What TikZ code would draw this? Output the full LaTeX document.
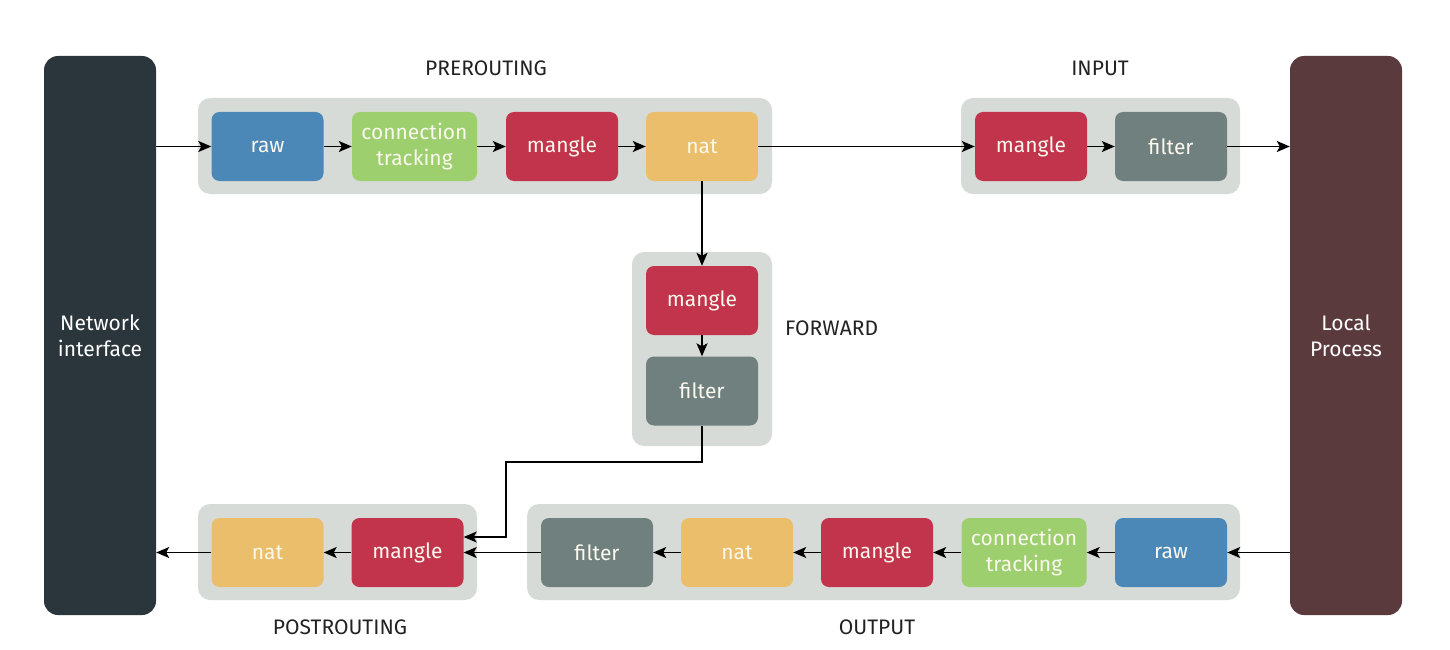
\documentclass[tikz,border=0pt]{standalone}
\usepackage{fontspec}
\setmainfont{Fira Sans}
\usetikzlibrary{arrows.meta}
\definecolor{nicol}{HTML}{2B363C}
\definecolor{lpcol}{HTML}{5B3A3E}
\definecolor{grpcol}{HTML}{D7DBD8}
\definecolor{redcol}{HTML}{C1344B}
\definecolor{bluecol}{HTML}{4B88B8}
\definecolor{greencol}{HTML}{9DCF6F}
\definecolor{yellowcol}{HTML}{EABE6A}
\definecolor{graycol}{HTML}{6F807E}
\definecolor{txtcol}{HTML}{FBF8EE}
\definecolor{lblcol}{HTML}{222222}
\begin{document}
\begin{tikzpicture}[x=1pt,y=-1pt,
  grp/.style={draw=none,fill=grpcol,rounded corners=12pt,inner sep=0pt},
  tbl/.style={fill=#1,rounded corners=8pt,minimum width=112pt,minimum height=69pt,inner sep=0pt,text=txtcol,font=\fontsize{21}{26}\selectfont,align=center},
  side/.style={fill=#1,rounded corners=14pt,minimum width=112pt,minimum height=559pt,inner sep=0pt,text=white,font=\fontsize{21}{26}\selectfont,align=center},
  lbl/.style={text=lblcol,font=\fontsize{21}{24}\selectfont,inner sep=0pt},
  arr/.style={-{Stealth[length=13pt,width=11pt,inset=3pt]},line width=1.4pt,draw=black},
]
\useasboundingbox (0,0) rectangle (1450,650);
% groups
\node[grp,minimum width=574pt,minimum height=96pt] (gpre) at (485,146) {};
\node[grp,minimum width=279pt,minimum height=96pt] (gin) at (1100.5,146) {};
\node[grp,minimum width=140pt,minimum height=194pt] (gfwd) at (702,349) {};
\node[grp,minimum width=279pt,minimum height=96pt] (gpost) at (337.5,552) {};
\node[grp,minimum width=713pt,minimum height=96pt] (gout) at (883.5,552) {};
% labels
\node[lbl] (lpre) at (486,68) {PREROUTING};
\node[lbl] (lin) at (1100,68) {INPUT};
\node[lbl,anchor=west] (lfwd) at (785,328) {FORWARD};
\node[lbl] (lpost) at (340,627) {POSTROUTING};
\node[lbl] (lout) at (877,627) {OUTPUT};
% side blocks
\node[side=nicol] (ni) at (100,335.5) {Network\\interface};
\node[side=lpcol] (lp) at (1346,335.5) {Local\\Process};
% prerouting
\node[tbl=bluecol] (praw) at (267.5,146.5) {raw};
\node[tbl=greencol,minimum width=125pt] (pct) at (414.5,146.5) {connection\\tracking};
\node[tbl=redcol] (pmg) at (562,146.5) {mangle};
\node[tbl=yellowcol] (pnat) at (702,146.5) {nat};
% input
\node[tbl=redcol] (img) at (1031,146.5) {mangle};
\node[tbl=graycol] (ifl) at (1171,146.5) {filter};
% forward
\node[tbl=redcol] (fmg) at (702,300.5) {mangle};
\node[tbl=graycol] (ffl) at (702,391) {filter};
% postrouting
\node[tbl=yellowcol] (qnat) at (267.5,552.5) {nat};
\node[tbl=redcol] (qmg) at (407.5,552.5) {mangle};
% output
\node[tbl=graycol] (ofl) at (597,552.5) {filter};
\node[tbl=yellowcol] (onat) at (737,552.5) {nat};
\node[tbl=redcol] (omg) at (877,552.5) {mangle};
\node[tbl=greencol,minimum width=125pt] (oct) at (1024,552.5) {connection\\tracking};
\node[tbl=bluecol] (oraw) at (1171,552.5) {raw};
% connectors
\coordinate (nin) at (ni.east |- praw.west);
\coordinate (nout) at (ni.east |- qnat.west);
\coordinate (lin1) at (lp.west |- ifl.east);
\coordinate (lout1) at (lp.west |- oraw.east);
\draw[arr] (nin) -- (praw.west);
\draw[arr] (praw) -- (pct);
\draw[arr] (pct) -- (pmg);
\draw[arr] (pmg) -- (pnat);
\draw[arr] (pnat) -- (img);
\draw[arr] (img) -- (ifl);
\draw[arr] (ifl.east) -- (lin1);
\draw[arr] (pnat) -- (fmg);
\draw[arr] (fmg) -- (ffl);
\coordinate (q1) at (qmg.east |- 0,537);
\draw[arr] (ffl.south) |- (506,462) |- (q1);
\draw[arr] (lout1) -- (oraw.east);
\draw[arr] (oraw) -- (oct);
\draw[arr] (oct) -- (omg);
\draw[arr] (omg) -- (onat);
\draw[arr] (onat) -- (ofl);
\draw[arr] (ofl) -- (qmg);
\draw[arr] (qmg) -- (qnat);
\draw[arr] (qnat.west) -- (nout);
\end{tikzpicture}
\end{document}
